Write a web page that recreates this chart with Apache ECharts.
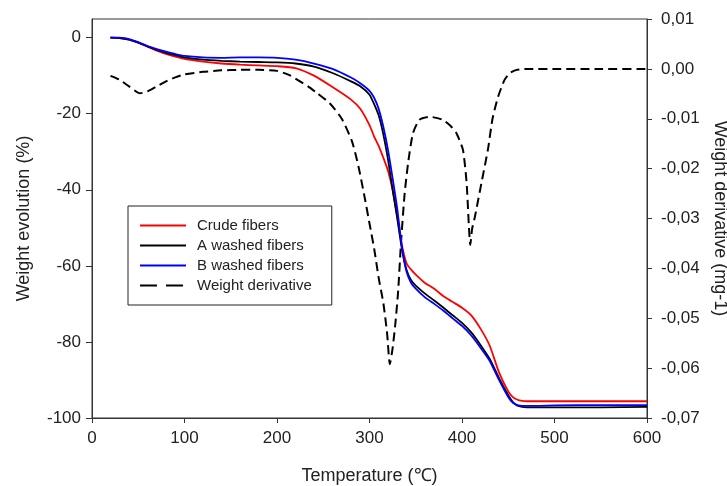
<!DOCTYPE html>
<html>
<head>
<meta charset="utf-8">
<script src="https://cdn.jsdelivr.net/npm/echarts@6/dist/echarts.min.js"></script>
<style>html,body{margin:0;padding:0;background:#fff}#c{width:727px;height:486px}</style>
</head>
<body>
<div id="c"></div>
<script>
// Temperature grid (°C) for the weight curves
const tgaT = [20,30,40,50,60,70,80,90,100,120,140,160,180,200,220,240,260,280,290,300,305,310,315,320,325,330,335,340,345,350,360,370,380,390,400,410,420,430,440,450,455,460,465,470,480,500,550,600];
// Weight evolution (%)
const crude = [0,-0.1,-0.5,-1.3,-2.4,-3.4,-4.3,-5.0,-5.6,-6.3,-6.8,-7.1,-7.3,-7.5,-8.0,-10.0,-13.0,-16.3,-18.7,-23,-26,-28.5,-31.6,-35,-40,-47,-54.5,-59.3,-61,-62.3,-64.5,-66,-68,-69.5,-71,-73,-76.5,-81,-88,-93,-94.5,-95.2,-95.5,-95.6,-95.6,-95.6,-95.6,-95.6];
const washedA = [0,-0.1,-0.5,-1.3,-2.3,-3.2,-4.0,-4.6,-5.2,-5.8,-6.1,-6.3,-6.4,-6.5,-6.8,-7.6,-9.3,-11.5,-12.8,-15,-17.5,-20.5,-25.5,-32,-40,-47.5,-55.5,-61,-63.8,-65.2,-67.3,-69.1,-71,-73,-75,-77.5,-80.8,-84.5,-89.5,-94,-95.8,-96.8,-97.1,-97.2,-97.2,-97.2,-97.2,-97.1];
const washedB = [0,0,-0.4,-1.2,-2.2,-3.0,-3.7,-4.3,-4.8,-5.2,-5.3,-5.2,-5.2,-5.3,-5.8,-6.8,-8.2,-10.5,-12,-14,-15.8,-18.8,-23.5,-29.5,-37,-45,-55,-61.5,-64.5,-66,-68.3,-70,-71.8,-73.8,-75.8,-78.3,-81.5,-85,-90,-94.5,-96,-96.6,-96.8,-96.8,-96.8,-96.7,-96.6,-96.6];
// Weight derivative (mg-1)
const dtgT = [20,30,40,52,60,70,80,90,100,120,140,160,180,200,214,235,243,257,270,281,288,295,300,305,310,315,319,322,325,328,331,334,338,342,347,354,365,379,388,394,401,405,409,411,414,421,428,433,439,446,452,459,470,500,550,600];
const dtg = [-0.0014,-0.0022,-0.0035,-0.0049,-0.0045,-0.0035,-0.0025,-0.0017,-0.0011,-0.0006,-0.0003,-0.0002,-0.0002,-0.0004,-0.0013,-0.0037,-0.0048,-0.0069,-0.0100,-0.0145,-0.0195,-0.026,-0.031,-0.036,-0.042,-0.047,-0.053,-0.0592,-0.056,-0.051,-0.0445,-0.035,-0.025,-0.0185,-0.0129,-0.0102,-0.0096,-0.0102,-0.0115,-0.0129,-0.0162,-0.0229,-0.0353,-0.032,-0.0296,-0.0229,-0.0162,-0.0100,-0.0056,-0.0022,-0.0008,-0.0002,0,0,0,0];
// Tick labels
const leftTicks = [-100,-80,-60,-40,-20,0];
const seriesNames = ['Crude fibers','A washed fibers','B washed fibers','Weight derivative'];

const pair = (xs, ys) => xs.map((x, i) => [x, ys[i]]);
const font = 'Liberation Sans, Arial, sans-serif';
const axisCol = '#333';

const chart = echarts.init(document.getElementById('c'), null, {renderer: 'canvas'});
chart.setOption({
  animation: false,
  backgroundColor: '#fff',
  textStyle: {fontFamily: font},
  grid: {left: 92, right: 80, top: 19, bottom: 68, show: true, borderColor: axisCol, borderWidth: 1,
         containLabel: false, outerBoundsMode: 'none'},
  legend: {
    orient: 'vertical', left: 128, top: 206,
    padding: [12, 20, 12, 11],
    itemWidth: 46, itemHeight: 14, itemGap: 5,
    borderColor: '#222', borderWidth: 1, backgroundColor: '#fff',
    itemStyle: {opacity: 0},
    textStyle: {fontSize: 15, color: '#222', fontFamily: font, padding: [0, 0, 0, 6]},
    data: [
      {name: seriesNames[0]},
      {name: seriesNames[1]},
      {name: seriesNames[2]},
      {name: seriesNames[3], lineStyle: {type: [17, 9], width: 2}}
    ]
  },
  xAxis: {
    type: 'value', min: 0, max: 600, interval: 100,
    name: 'Temperature (\u2103)', nameLocation: 'middle', nameGap: 49,
    nameTextStyle: {fontSize: 18, color: '#222', fontFamily: font},
    axisLine: {onZero: false, lineStyle: {color: axisCol, width: 1}},
    axisTick: {show: true, length: 5, lineStyle: {color: axisCol}},
    axisLabel: {fontSize: 17, color: '#222', margin: 12, fontFamily: font},
    splitLine: {show: false}
  },
  yAxis: [
    {
      type: 'value', min: -100, max: 4.9, position: 'left',
      name: 'Weight evolution (%)', nameLocation: 'middle', nameGap: 59,
      nameTextStyle: {fontSize: 18, color: '#222', fontFamily: font},
      axisLine: {show: true, onZero: false, lineStyle: {color: axisCol, width: 1}},
      axisTick: {show: true, length: 6, customValues: leftTicks, lineStyle: {color: axisCol}},
      axisLabel: {fontSize: 17, color: '#222', margin: 11, customValues: leftTicks, fontFamily: font},
      splitLine: {show: false}
    },
    {
      type: 'value', min: -0.07, max: 0.01, interval: 0.01, position: 'right',
      name: 'Weight derivative (mg-1)', nameLocation: 'middle', nameGap: 61, nameRotate: -90,
      nameTextStyle: {fontSize: 18, color: '#222', fontFamily: font},
      axisLine: {show: true, onZero: false, lineStyle: {color: axisCol, width: 1}},
      axisTick: {show: true, length: 5, lineStyle: {color: axisCol}},
      axisLabel: {
        fontSize: 17, color: '#222', margin: 14, fontFamily: font,
        formatter: v => (Math.abs(v) < 1e-9 ? 0 : v).toFixed(2).replace('.', ',')
      },
      splitLine: {show: false}
    }
  ],
  series: [
    {name: seriesNames[3], type: 'line', yAxisIndex: 1, data: pair(dtgT, dtg), symbol: 'none', smooth: 0.2,
     lineStyle: {color: '#000', width: 2, type: [9, 5]}, itemStyle: {color: '#000'}},
    {name: seriesNames[0], type: 'line', yAxisIndex: 0, data: pair(tgaT, crude), symbol: 'none', smooth: 0.2,
     lineStyle: {color: '#ff0000', width: 1.8}, itemStyle: {color: '#ff0000'}},
    {name: seriesNames[1], type: 'line', yAxisIndex: 0, data: pair(tgaT, washedA), symbol: 'none', smooth: 0.2,
     lineStyle: {color: '#000', width: 1.8}, itemStyle: {color: '#000'}},
    {name: seriesNames[2], type: 'line', yAxisIndex: 0, data: pair(tgaT, washedB), symbol: 'none', smooth: 0.2,
     lineStyle: {color: '#0000ff', width: 1.8}, itemStyle: {color: '#0000ff'}}
  ]
});
</script>
</body>
</html>
